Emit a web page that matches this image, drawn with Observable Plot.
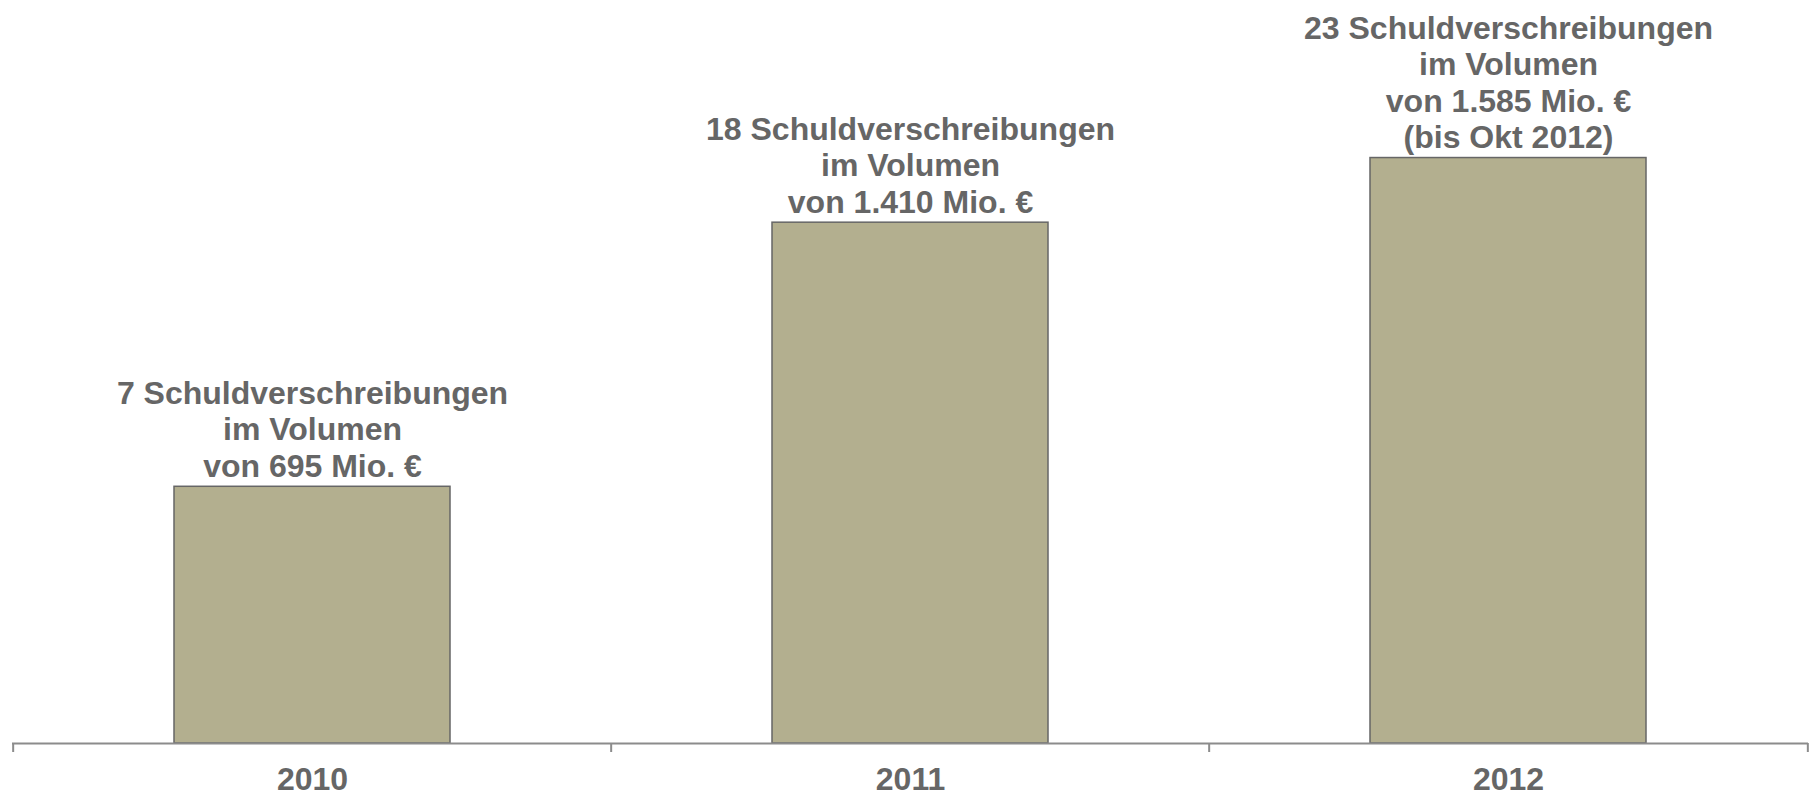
<!DOCTYPE html>
<html>
<head>
<meta charset="utf-8">
<script src="https://cdn.jsdelivr.net/npm/d3@7"></script>
<script src="https://cdn.jsdelivr.net/npm/@observablehq/plot@0.6"></script>
<style>
  html, body { margin: 0; padding: 0; background: #fff; }
  #chart svg { display: block; }
</style>
</head>
<body>
<div id="chart"></div>
<script>
const years = ["2010", "2011", "2012"];
const counts = [7, 18, 23];
const volumes = [695, 1410, 1585];
const notes = ["", "", "(bis Okt 2012)"];

const de = d3.formatLocale({decimal: ",", thousands: ".", grouping: [3], currency: ["", " €"]});
const fmt = de.format(",");

const data = years.map((y, i) => ({
  year: y,
  value: volumes[i],
  label: `${counts[i]} Schuldverschreibungen\nim Volumen\nvon ${fmt(volumes[i])} Mio. €` + (notes[i] ? `\n${notes[i]}` : "")
}));

const W = 1815, H = 796;
const mL = 12, mR = 7;
const step = (W - mL - mR) / years.length;
const font = "'Liberation Sans', Arial, sans-serif";
const textColor = "#666666";
const axisColor = "#8c8c8c";

const chart = Plot.plot({
  width: W,
  height: H,
  marginLeft: mL,
  marginRight: mR,
  marginTop: 152,
  marginBottom: 53,
  style: {fontFamily: font, background: "#fff"},
  x: {domain: years, paddingInner: 0.538, paddingOuter: 0.269, label: null},
  y: {domain: [0, 1600], axis: null},
  marks: [
    Plot.barY(data, {x: "year", y: "value", fill: "#b3af8f", stroke: "#666666", strokeWidth: 1.5}),
    Plot.ruleY([0], {stroke: axisColor, strokeWidth: 2}),
    Plot.ruleX(data, {x: "year", y1: 0, y2: 0, dx: -step / 2, insetBottom: -9, stroke: axisColor, strokeWidth: 2}),
    Plot.ruleX(data.slice(-1), {x: "year", y1: 0, y2: 0, dx: step / 2, insetBottom: -9, stroke: axisColor, strokeWidth: 2}),
    Plot.axisX({tickSize: 0, tickPadding: 24, fontSize: 32, fontWeight: "bold", fill: textColor, label: null}),
    Plot.text(data, {x: "year", y: "value", text: "label", lineAnchor: "bottom", lineHeight: 1.14, dy: -10,
      fontSize: 32, fontWeight: "bold", fill: textColor})
  ]
});
document.getElementById("chart").appendChild(chart);
</script>
</body>
</html>
